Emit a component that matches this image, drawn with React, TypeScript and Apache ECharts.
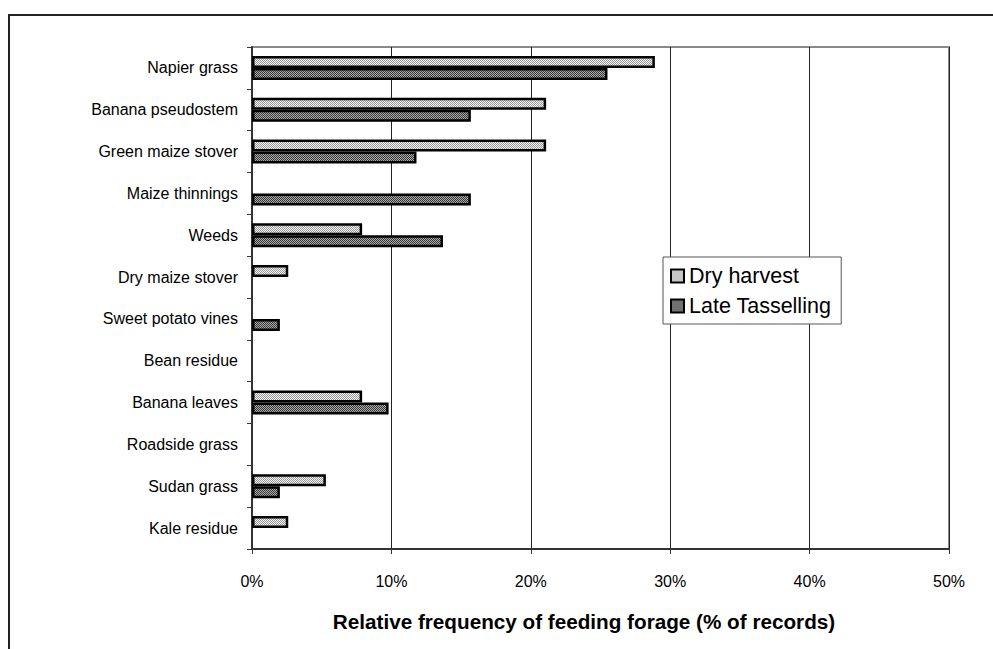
import React, { useEffect, useRef } from "react";
import * as echarts from "echarts";

const categories = [
  "Napier grass",
  "Banana pseudostem",
  "Green maize stover",
  "Maize thinnings",
  "Weeds",
  "Dry maize stover",
  "Sweet potato vines",
  "Bean residue",
  "Banana leaves",
  "Roadside grass",
  "Sudan grass",
  "Kale residue",
];
const dryHarvest = [28.9, 21.1, 21.1, 0, 7.9, 2.6, 0, 0, 7.9, 0, 5.3, 2.6];
const lateTasselling = [25.5, 15.7, 11.8, 15.7, 13.7, 0, 2.0, 0, 9.8, 0, 2.0, 0];
const xTicks = [0, 10, 20, 30, 40, 50];
const seriesNames = ["Dry harvest", "Late Tasselling"];
const axisTitle = "Relative frequency of feeding forage (% of records)";

function makePattern(base: string, dot: string, step: number) {
  const c = document.createElement("canvas");
  c.width = 4;
  c.height = 4;
  const ctx = c.getContext("2d")!;
  ctx.fillStyle = base;
  ctx.fillRect(0, 0, 4, 4);
  ctx.fillStyle = dot;
  for (let y = 0; y < 4; y++) {
    for (let x = 0; x < 4; x++) {
      if ((x + y) % step === 0) ctx.fillRect(x, y, 1, 1);
    }
  }
  return { image: c, repeat: "repeat" as const };
}

export default function App() {
  const ref = useRef<HTMLDivElement>(null);
  useEffect(() => {
    if (!ref.current) return;
    const chart = echarts.init(ref.current, undefined, { renderer: "svg" });
    const lightFill = makePattern("#f2f2f2", "#9a9a9a", 2);
    const darkFill = makePattern("#a8a8a8", "#3a3a3a", 2);
    const font = "Arial, 'Liberation Sans', sans-serif";
    const noZero = (arr: number[]) => arr.map((v) => (v === 0 ? null : v));
    chart.setOption({
      animation: false,
      backgroundColor: "#ffffff",
      textStyle: { fontFamily: font },
      grid: {
        left: 252,
        right: 44,
        top: 47,
        bottom: 100,
        show: true,
        borderColor: "#8a8a8a",
        borderWidth: 2,
        containLabel: false,
      },
      legend: {
        orient: "vertical",
        left: 663,
        top: 257,
        padding: [8, 10, 7, 7],
        itemGap: 8,
        itemWidth: 13,
        itemHeight: 13,
        icon: "rect",
        backgroundColor: "#ffffff",
        borderColor: "#555",
        borderWidth: 1,
        textStyle: { fontSize: 21.5, color: "#000", fontFamily: font },
        data: seriesNames,
      },
      xAxis: {
        type: "value",
        min: 0,
        max: 50,
        interval: 10,
        axisLine: { show: true, lineStyle: { color: "#333", width: 2 } },
        axisTick: { show: true, length: 5, lineStyle: { color: "#333" } },
        axisLabel: {
          formatter: (v: number) => (xTicks.includes(v) ? v + "%" : ""),
          fontSize: 16,
          color: "#000",
          margin: 24,
          fontFamily: font,
        },
        splitLine: { show: true, lineStyle: { color: "#222", width: 1 } },
      },
      yAxis: {
        type: "category",
        inverse: true,
        data: categories,
        axisLine: { show: true, lineStyle: { color: "#333", width: 2 } },
        axisTick: { show: true, length: 5, lineStyle: { color: "#333" } },
        axisLabel: { fontSize: 16, color: "#000", margin: 14, fontFamily: font },
      },
      series: [
        {
          name: seriesNames[0],
          type: "bar",
          data: noZero(dryHarvest),
          barWidth: 12,
          barGap: "0%",
          itemStyle: { color: lightFill, borderColor: "#000", borderWidth: 2.5 },
        },
        {
          name: seriesNames[1],
          type: "bar",
          data: noZero(lateTasselling),
          barWidth: 12,
          barGap: "0%",
          itemStyle: { color: darkFill, borderColor: "#000", borderWidth: 2.5 },
        },
      ],
      graphic: [
        {
          type: "rect",
          shape: { x: 9, y: 15, width: 1200, height: 900 },
          style: { fill: "none", stroke: "#222", lineWidth: 2 },
          silent: true,
          z: -10,
        },
        {
          type: "text",
          x: 584,
          y: 621,
          style: {
            text: axisTitle,
            fontSize: 20.7,
            fontWeight: "bold",
            fill: "#000",
            fontFamily: font,
            align: "center",
            verticalAlign: "middle",
          },
        },
      ],
    });
    return () => chart.dispose();
  }, []);
  return (
    <div
      ref={ref}
      style={{ position: "fixed", left: 0, top: 0, width: 993, height: 649, background: "#fff" }}
    />
  );
}
